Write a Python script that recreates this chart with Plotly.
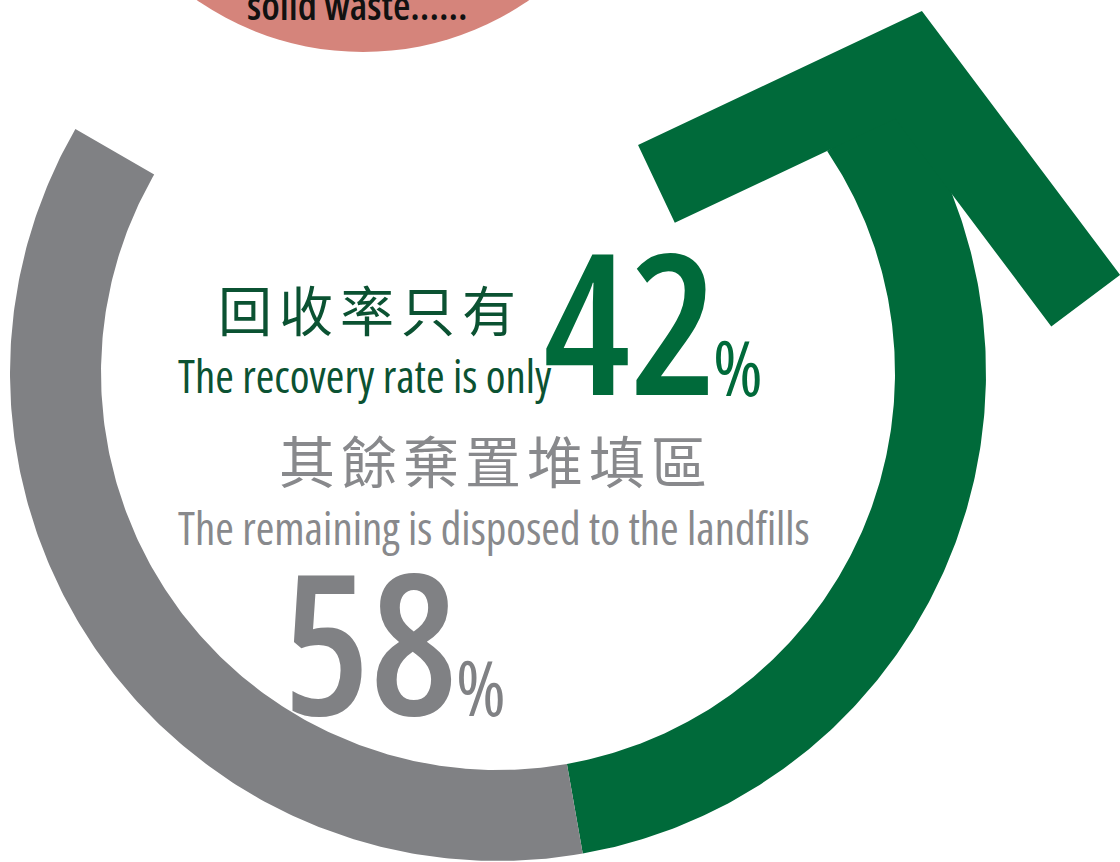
import numpy as np
import plotly.graph_objects as go

# ---------------- data ----------------
CATEGORIES = ["回收 Recovered", "堆填 Landfilled"]
SHARES = [42, 58]                       # percent
HEADLINE_ZH = ["回收率只有", "其餘棄置堆填區"]
HEADLINE_EN = ["The recovery rate is only", "The remaining is disposed to the landfills"]
BUBBLE_TEXT = "solid waste......"

# ---------------- style / geometry (canvas pixels) ----------------
W, H = 1120, 862
CX, CY = 498, 373
R_IN, R_OUT = 397, 488
ARC_SPANS = {"回收 Recovered": (-80, 34), "堆填 Landfilled": (150, 280)}   # degrees, ccw from east
GREEN, GRAY = "#006a3a", "#808184"
GREEN_TXT, GRAY_TXT = "#0b5232", "#88898c"
PINK = "#d5847b"
COLORS = {"回收 Recovered": GREEN, "堆填 Landfilled": GRAY}
LAT_FONT = "Open Sans, sans-serif"
CJK_FONT = "Noto Sans CJK TC, Noto Sans CJK SC, sans-serif"

# arrow head (chevron) parameters
APEX_R, APEX_A = 557.5, 40.5          # polar position of the apex w.r.t. ring centre
ARM1_DIR, ARM1_LEN = 154.7, 314       # screen-degrees direction, length
ARM2_DIR, ARM2_LEN = 53.1, 330
ARM_W = 86

fig = go.Figure()

# pink bubble (top)
BUB_CX, BUB_CY, BUB_R = 363, -240, 292
fig.add_shape(type="circle", xref="x", yref="y",
              x0=BUB_CX - BUB_R, x1=BUB_CX + BUB_R, y0=BUB_CY - BUB_R, y1=BUB_CY + BUB_R,
              fillcolor=PINK, line_width=0, layer="below")


def ring_segment(a0, a1, n=240):
    t = np.radians(np.linspace(a0, a1, n))
    xo, yo = CX + R_OUT * np.cos(t), CY - R_OUT * np.sin(t)
    xi, yi = CX + R_IN * np.cos(t[::-1]), CY - R_IN * np.sin(t[::-1])
    return np.r_[xo, xi, xo[:1]], np.r_[yo, yi, yo[:1]]


for cat, share in zip(CATEGORIES, SHARES):
    a0, a1 = ARC_SPANS[cat]
    xs, ys = ring_segment(a0, a1)
    fig.add_trace(go.Scatter(x=xs, y=ys, mode="lines", fill="toself",
                             fillcolor=COLORS[cat], line=dict(width=0, color=COLORS[cat]),
                             name=f"{cat} {share}%", hoverinfo="name", showlegend=False))

# chevron arrow head on the green arc
apex = np.array([CX + APEX_R * np.cos(np.radians(APEX_A)), CY - APEX_R * np.sin(np.radians(APEX_A))])
u1 = np.array([np.cos(np.radians(ARM1_DIR)), np.sin(np.radians(ARM1_DIR))])
u2 = np.array([np.cos(np.radians(ARM2_DIR)), np.sin(np.radians(ARM2_DIR))])
A = apex + ARM1_LEN * u1
C = apex + ARM2_LEN * u2
n1 = np.array([u1[1], -u1[0]])
n2 = np.array([-u2[1], u2[0]])
F = A + ARM_W * n1
D = C + ARM_W * n2
bis = (u1 + u2) / np.linalg.norm(u1 + u2)
half = np.arccos(np.clip(np.dot(u1, u2), -1, 1)) / 2
E = apex + bis * ARM_W / np.sin(half)
poly = np.array([A, apex, C, D, E, F, A])
fig.add_trace(go.Scatter(x=poly[:, 0], y=poly[:, 1], mode="lines", fill="toself",
                         fillcolor=GREEN, line=dict(width=0, color=GREEN),
                         hoverinfo="skip", showlegend=False))


def txt(x, y, text, size, color, family, css="", xanchor="center"):
    if css:
        text = f'<span style="{css}">{text}</span>'
    fig.add_annotation(x=x, y=y, xref="x", yref="y", text=text, showarrow=False,
                       xanchor=xanchor, yanchor="middle", borderpad=0,
                       font=dict(size=size, color=color, family=family))


COND = "font-stretch:75%"
# bubble text
txt(357, 4, BUBBLE_TEXT, 40, "#111111", LAT_FONT, COND + ";font-weight:600")
# green block
txt(370, 308, HEADLINE_ZH[0], 54, GREEN_TXT, CJK_FONT, "letter-spacing:7px")
txt(365, 375, HEADLINE_EN[0], 45, GREEN_TXT, LAT_FONT, COND)
txt(718, 319, f"{SHARES[0]}", 195, GREEN, LAT_FONT, COND + ";font-weight:600", xanchor="right")
txt(712, 366, "%", 76, GREEN, LAT_FONT, COND, xanchor="left")
# gray block
txt(496, 458, HEADLINE_ZH[1], 56, GRAY_TXT, CJK_FONT, "letter-spacing:6px")
txt(494, 527, HEADLINE_EN[1], 45, GRAY_TXT, LAT_FONT, COND)
txt(458, 639, f"{SHARES[1]}", 195, GRAY, LAT_FONT, COND + ";font-weight:600", xanchor="right")
txt(455, 686, "%", 76, GRAY, LAT_FONT, COND, xanchor="left")

fig.update_xaxes(range=[0, W], visible=False, fixedrange=True)
fig.update_yaxes(range=[H, 0], visible=False, fixedrange=True)
fig.update_layout(width=W, height=H, margin=dict(l=0, r=0, t=0, b=0),
                  paper_bgcolor="white", plot_bgcolor="white", showlegend=False)

fig.write_html("out.html", config={"displayModeBar": False})
